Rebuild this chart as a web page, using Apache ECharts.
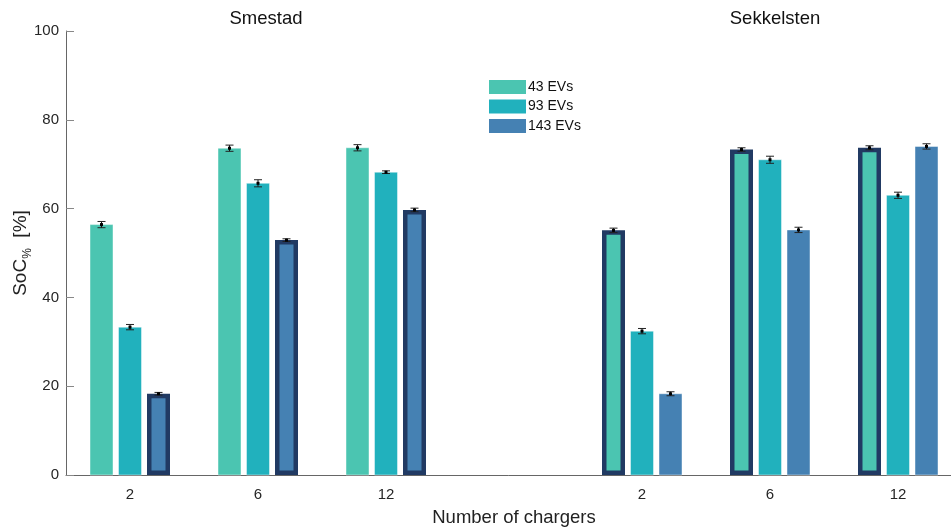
<!DOCTYPE html>
<html>
<head>
<meta charset="utf-8">
<script src="https://cdn.jsdelivr.net/npm/echarts@6/dist/echarts.min.js"></script>
<style>
  html, body { margin: 0; padding: 0; background: #fff; }
  #main { width: 951px; height: 529px; }
</style>
</head>
<body>
<div id="main"></div>
<script>
// categories (empty slot separates the two sites)
var categories = ['2', '6', '12', '', '2', '6', '12'];
var siteNames = ['Smestad', 'Sekkelsten'];
var seriesNames = ['43 EVs', '93 EVs', '143 EVs'];
var yTicks = [0, 20, 40, 60, 80, 100];

// mean SoC values
var ev43 = [56.4, 73.6, 73.7, null, 55.1, 73.3, 73.7];
var ev93 = [33.3, 65.7, 68.2, null, 32.4, 71.0, 63.0];
var ev143 = [18.3, 52.9, 59.7, null, 18.3, 55.2, 74.0];

// error half-widths
var err43 = [0.7, 0.7, 0.7, null, 0.5, 0.4, 0.45];
var err93 = [0.6, 0.8, 0.3, null, 0.6, 0.8, 0.7];
var err143 = [0.3, 0.3, 0.4, null, 0.45, 0.6, 0.6];

// bars drawn with dark frame
var framed43 = [4, 5, 6];
var framed93 = [];
var framed143 = [0, 1, 2];

var colors = ['#4bc5b1', '#21b1bd', '#4581b3'];
var frameColor = '#213a63';

function tubiao(id) {
    var dom = document.getElementById(id);
    var myChart = echarts.init(dom);
    var option = null;

    var values = [ev43, ev93, ev143];
    var errs = [err43, err93, err143];
    var framed = [framed43, framed93, framed143];

    var barW = 23;
    var step = 28.5;

    function makeRender(s) {
        return function (params, api) {
            var ci = api.value(0);
            var v = api.value(1);
            var e = api.value(2);
            var isFramed = api.value(3) === 1;
            var base = api.coord([ci, 0]);
            var top = api.coord([ci, v]);
            var x = base[0] + (s - 1) * step - barW / 2;
            var h = base[1] - top[1];
            var children = [];
            if (isFramed) {
                var b = 4.5;
                children.push({
                    type: 'rect',
                    shape: { x: x, y: top[1], width: barW, height: h },
                    style: { fill: frameColor }
                });
                children.push({
                    type: 'rect',
                    shape: { x: x + b, y: top[1] + b, width: barW - 2 * b, height: h - 2 * b },
                    style: { fill: colors[s] }
                });
            } else {
                children.push({
                    type: 'rect',
                    shape: { x: x, y: top[1], width: barW, height: h },
                    style: { fill: colors[s], stroke: 'rgba(255,255,255,0.45)', lineWidth: 1 }
                });
            }
            // error bar
            var cx = base[0] + (s - 1) * step;
            var hi = api.coord([ci, v + e])[1];
            var lo = api.coord([ci, v - e])[1];
            var cap = 4;
            children.push({
                type: 'line',
                shape: { x1: cx, y1: hi, x2: cx, y2: lo },
                style: { stroke: '#111', lineWidth: 1 }
            });
            children.push({
                type: 'line',
                shape: { x1: cx - cap, y1: hi, x2: cx + cap, y2: hi },
                style: { stroke: '#222', lineWidth: 1 }
            });
            children.push({
                type: 'line',
                shape: { x1: cx - cap, y1: lo, x2: cx + cap, y2: lo },
                style: { stroke: '#222', lineWidth: 1 }
            });
            children.push({
                type: 'rect',
                shape: { x: cx - 1.5, y: top[1] - 1.5, width: 3, height: 3 },
                style: { fill: '#000' }
            });
            return { type: 'group', children: children };
        };
    }

    var series = [];
    for (var s = 0; s < 3; s++) {
        var data = [];
        for (var i = 0; i < categories.length; i++) {
            if (values[s][i] == null) continue;
            data.push([i, values[s][i], errs[s][i], framed[s].indexOf(i) >= 0 ? 1 : 0]);
        }
        series.push({
            name: seriesNames[s],
            type: 'custom',
            renderItem: makeRender(s),
            itemStyle: { color: colors[s] },
            encode: { x: 0, y: 1 },
            data: data
        });
    }

    option = {
        backgroundColor: '#fff',
        animation: false,
        textStyle: { fontFamily: 'Liberation Sans, Arial, sans-serif' },
        title: [{
            text: siteNames[0],
            left: 261,
            top: 4,
            textAlign: 'center',
            textStyle: { fontSize: 18.5, fontWeight: 'normal', color: '#111' }
        }, {
            text: siteNames[1],
            left: 770,
            top: 4,
            textAlign: 'center',
            textStyle: { fontSize: 18.5, fontWeight: 'normal', color: '#111' }
        }],
        legend: {
            orient: 'vertical',
            left: 484,
            top: 75,
            itemWidth: 37,
            itemHeight: 14,
            itemGap: 5.5,
            icon: 'rect',
            textStyle: { fontSize: 14, color: '#111', padding: [0, 0, 0, -3] },
            data: seriesNames
        },
        grid: {
            left: 66,
            top: 31,
            bottom: 54,
            width: 896,
            outerBoundsMode: 'none',
            containLabel: false
        },
        xAxis: {
            type: 'category',
            data: categories,
            name: 'Number of chargers',
            nameLocation: 'middle',
            nameGap: 33,
            nameMoveOverlap: false,
            nameTextStyle: { fontSize: 18.5, color: '#222' },
            axisLine: { show: true, lineStyle: { color: '#666' } },
            axisTick: {
                show: true,
                inside: true,
                length: 8,
                alignWithLabel: true,
                interval: function (index, value) { return value !== ''; },
                lineStyle: { color: '#444' }
            },
            axisLabel: { fontSize: 15, color: '#262626', margin: 12 },
            splitLine: { show: false }
        },
        yAxis: {
            type: 'value',
            min: yTicks[0],
            max: yTicks[yTicks.length - 1],
            interval: yTicks[1] - yTicks[0],
            name: '{n|SoC}{s|%}{n|  [%]}',
            nameLocation: 'middle',
            nameGap: 33,
            nameMoveOverlap: false,
            nameTextStyle: {
                rich: {
                    n: { fontSize: 19, color: '#222', lineHeight: 24 },
                    s: { fontSize: 12, color: '#222', lineHeight: 24, padding: [13, 0, 0, 0] }
                }
            },
            axisLine: { show: true, lineStyle: { color: '#666' } },
            axisTick: { show: true, inside: true, length: 8, lineStyle: { color: '#888' } },
            axisLabel: { fontSize: 15, color: '#262626', margin: 7 },
            splitLine: { show: false }
        },
        series: series
    };

    if (option && typeof option === "object") {
        myChart.setOption(option, true);
    }
}

tubiao('main');
</script>
</body>
</html>
